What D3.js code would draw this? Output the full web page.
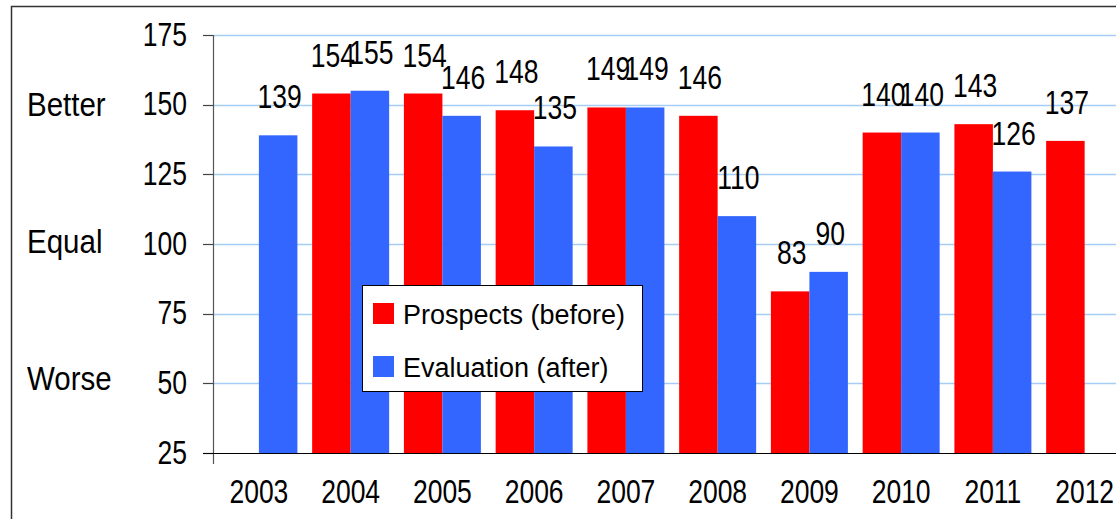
<!DOCTYPE html>
<html>
<head>
<meta charset="utf-8">
<script src="https://cdn.jsdelivr.net/npm/d3@7"></script>
<style>
  body { margin: 0; background: #fff; }
  svg { display: block; font-family: "Liberation Sans", Arial, sans-serif; }
</style>
</head>
<body>
<div id="chart"></div>
<script>
const width = 1116, height = 519;

// data
const years = ["2003", "2004", "2005", "2006", "2007", "2008", "2009", "2010", "2011", "2012"];
const prospects = [null, 154, 154, 148, 149, 146, 83, 140, 143, 137];
const evaluation = [139, 155, 146, 135, 149, 110, 90, 140, 126, null];
const seriesNames = ["Prospects (before)", "Evaluation (after)"];
const seriesColors = ["#ff0000", "#3366ff"];
const yTicks = [25, 50, 75, 100, 125, 150, 175];
const sideLabels = ["Better", "Equal", "Worse"];
const sideLabelAt = [145.8, 96.9, 47.6];

const svg = d3.select("#chart")
  .append("svg")
  .attr("width", width)
  .attr("height", height);

// outer frame (cropped on right and bottom)
svg.append("path")
  .attr("d", `M11.5,${height} V6.5 H${width}`)
  .attr("fill", "none")
  .attr("stroke", "#333")
  .attr("stroke-width", 1.5);

const x0 = d3.scaleBand().domain(years).range([213, 213 + 10 * 91.75]);
const x1 = d3.scaleBand().domain([0, 1]).range([7.4, 7.4 + 77]);
const y = d3.scaleLinear().domain([25, 175]).range([453, 35]);

// grid lines
svg.append("g")
  .selectAll("line")
  .data(yTicks.filter(d => d > 25))
  .join("line")
  .attr("x1", 213).attr("x2", width)
  .attr("y1", d => Math.round(y(d)) + 0.5)
  .attr("y2", d => Math.round(y(d)) + 0.5)
  .attr("stroke", "#a6cdf5")
  .attr("stroke-width", 1.5);

// y tick marks
svg.append("g")
  .selectAll("line")
  .data(yTicks)
  .join("line")
  .attr("x1", 203).attr("x2", 213)
  .attr("y1", d => Math.round(y(d)) + 0.5)
  .attr("y2", d => Math.round(y(d)) + 0.5)
  .attr("stroke", "#444")
  .attr("stroke-width", 1.2);

// stretched text helper
function stretchedText(g, x, yy, txt, size, sy, anchor) {
  return g.append("text")
    .attr("transform", `translate(${x},${yy}) scale(1,${sy})`)
    .attr("text-anchor", anchor)
    .attr("font-size", size)
    .attr("fill", "#000")
    .text(txt);
}

const labels = svg.append("g");
yTicks.forEach(t => stretchedText(labels, 187, y(t) + 10.5, t, 26.5, 1.23, "end"));
sideLabels.forEach((s, i) => stretchedText(labels, 27, y(sideLabelAt[i]), s, 29.5, 1.12, "start"));
years.forEach(yr => stretchedText(labels, x0(yr) + x0.bandwidth() / 2, 503, yr, 26.5, 1.23, "middle"));

// bars
const rows = [];
years.forEach((yr, i) => {
  [prospects[i], evaluation[i]].forEach((v, s) => {
    if (v != null) rows.push({ year: yr, s, v });
  });
});

svg.append("g")
  .selectAll("rect")
  .data(rows)
  .join("rect")
  .attr("x", d => x0(d.year) + x1(d.s))
  .attr("width", x1.bandwidth())
  .attr("y", d => y(d.v))
  .attr("height", d => y(25) - y(d.v))
  .attr("fill", d => seriesColors[d.s]);

// value labels
rows.forEach(d => {
  stretchedText(labels, x0(d.year) + x1(d.s) + x1.bandwidth() / 2 + 1.5, y(d.v) - 27, d.v, 26.5, 1.23, "middle");
});

// axes lines
svg.append("line")
  .attr("x1", 213.5).attr("x2", 213.5)
  .attr("y1", 35).attr("y2", 464)
  .attr("stroke", "#555").attr("stroke-width", 1.2);
svg.append("line")
  .attr("x1", 203).attr("x2", width)
  .attr("y1", 453.5).attr("y2", 453.5)
  .attr("stroke", "#000").attr("stroke-width", 1.2);

// legend
const legend = svg.append("g");
legend.append("rect")
  .attr("x", 362.5).attr("y", 285.5)
  .attr("width", 280).attr("height", 106)
  .attr("fill", "#fff").attr("stroke", "#000");
seriesNames.forEach((name, i) => {
  legend.append("rect")
    .attr("x", 373).attr("y", 303 + i * 53)
    .attr("width", 21).attr("height", 21)
    .attr("fill", seriesColors[i]);
  legend.append("text")
    .attr("x", 403).attr("y", 323.5 + i * 53)
    .attr("font-size", 27)
    .text(name);
});
</script>
</body>
</html>
